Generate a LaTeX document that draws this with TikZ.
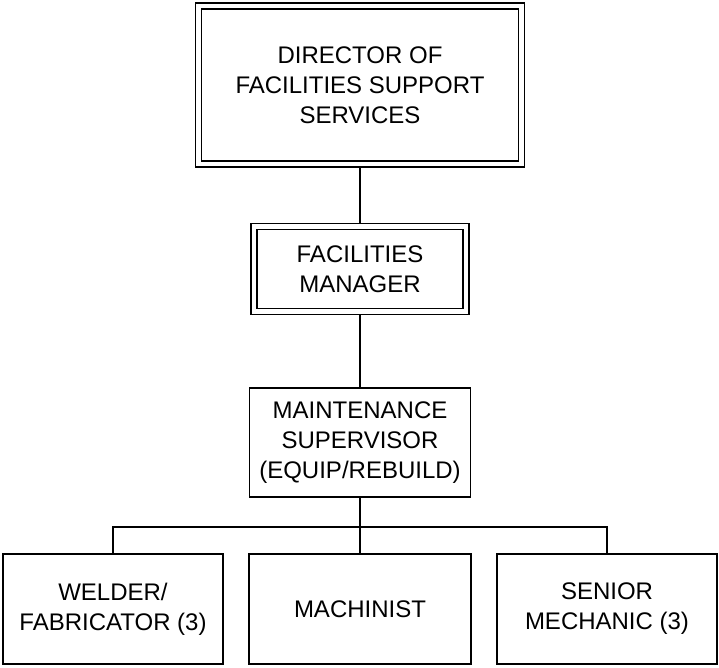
\documentclass[tikz,border=0pt]{standalone}
\usepackage{fontspec}
\setmainfont{Liberation Sans}
\begin{document}
\begin{tikzpicture}[x=1pt,y=-1pt,
  box/.style={draw, line width=1.8pt, align=center, inner sep=0pt,
    font=\fontsize{24}{30}\selectfont},
  dbox/.style={box, line width=1.6pt, double, double distance=4.2pt, outer sep=3.7pt},
  link/.style={line width=1.8pt}]
\useasboundingbox (0,0) rectangle (719,667);
% double-framed upper posts (width/height measured to the middle of the frame)
\node[dbox, minimum width=323pt, minimum height=158pt] (dir) at (360,85)
  {DIRECTOR OF\\FACILITIES SUPPORT\\SERVICES};
\node[dbox, minimum width=212pt, minimum height=85pt] (mgr) at (360,269)
  {FACILITIES\\MANAGER};
% single-framed posts
\node[box, minimum width=221pt, minimum height=109pt] (sup) at (360,442.5)
  {MAINTENANCE\\SUPERVISOR\\(EQUIP/REBUILD)};
\node[box, minimum width=220pt, minimum height=110pt] (wel) at (113,609)
  {WELDER/\\FABRICATOR (3)};
\node[box, minimum width=222pt, minimum height=110pt] (mac) at (360,609)
  {MACHINIST};
\node[box, minimum width=220pt, minimum height=110pt] (sen) at (607,609)
  {SENIOR\\MECHANIC (3)};
% reporting lines
\coordinate (bus) at (360,527);
\draw[link] (dir.south) -- (mgr.north);
\draw[link] (mgr.south) -- (sup.north);
\draw[link] (sup.south) -- (mac.north);
\draw[link] (wel.north) |- (bus) -| (sen.north);
\end{tikzpicture}
\end{document}
